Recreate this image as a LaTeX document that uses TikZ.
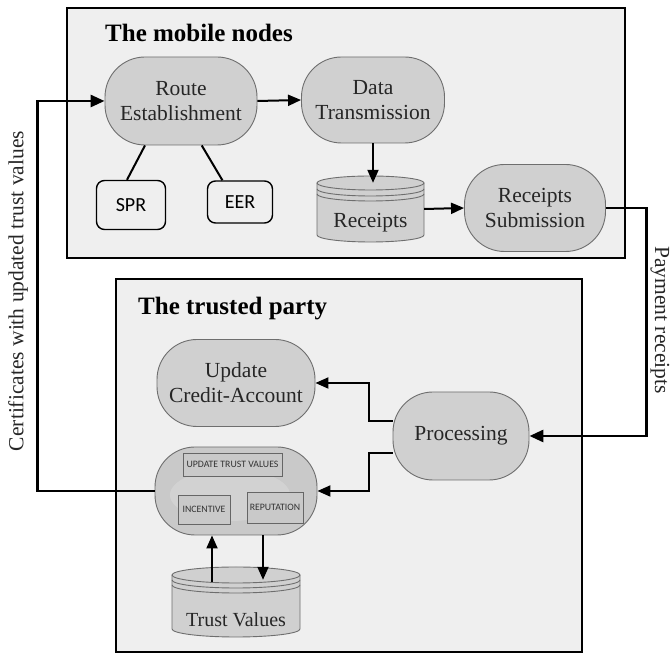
\documentclass[tikz,border=0pt]{standalone}
\usepackage{fontspec}
\setmainfont{Liberation Serif}
\newfontfamily\labelsans{Carlito}
\usetikzlibrary{arrows.meta}

\definecolor{panelbg}{HTML}{EFEFEF}
\definecolor{nodefill}{HTML}{D0D0D0}
\definecolor{nodeedge}{HTML}{6E6E6E}
\definecolor{tvfill}{HTML}{C9C9C9}

\begin{document}
\begin{tikzpicture}[x=1pt,y=1pt,
  panel/.style={draw=black, line width=2.6pt, fill=panelbg},
  stadium/.style={draw=nodeedge, line width=0.9pt, fill=nodefill, rounded corners=40pt,
    align=center, font=\fontsize{21.5}{25}\selectfont, text=black!85, inner sep=0pt},
  tag/.style={draw=black, line width=1.4pt, rounded corners=8pt,
    font=\labelsans\fontsize{20}{22}\selectfont, inner sep=0pt},
  mini/.style={draw=black!60, line width=0.9pt, fill=tvfill, inner sep=0pt,
    font=\labelsans\fontsize{9.8}{11}\selectfont, text=black!80},
  cyl/.style={draw=nodeedge, line width=0.9pt},
  link/.style={line width=2pt, -{Triangle[length=13pt,width=11pt]}},
  plain/.style={line width=2pt},
  bus/.style={line width=2.8pt, -{Triangle[length=14pt,width=12pt]}},
  title/.style={font=\bfseries\fontsize{25}{28}\selectfont, anchor=base west, inner sep=0pt},
  side/.style={font=\fontsize{21.5}{25}\selectfont, inner sep=0pt, text=black!85}
]
\useasboundingbox (0,0) rectangle (672,655);
\fill[white] (0,0) rectangle (672,655);

% ---------- mobile nodes panel ----------
\draw[panel] (67,397) rectangle (625,647);
\node[title] (t1) at (105,613) {The mobile nodes};

\node[stadium, minimum width=152, minimum height=88] (route) at (181,554) {Route\\Establishment};
\node[stadium, minimum width=143, minimum height=86] (data) at (373,555) {Data\\Transmission};
\node[tag, minimum width=69, minimum height=49] (spr) at (131,450) {SPR};
\node[tag, minimum width=65, minimum height=42] (eer) at (240,453) {EER};
\node[stadium, minimum width=141, minimum height=87] (sub) at (535,447) {Receipts\\Submission};

% receipts store
\fill[nodefill] (317,472) -- (317,420) arc[start angle=180,end angle=360,x radius=53.5pt,y radius=7pt]
  -- (424,472) arc[start angle=0,end angle=180,x radius=53.5pt,y radius=7pt] -- cycle;
\draw[cyl] (317,472) -- (317,420) arc[start angle=180,end angle=360,x radius=53.5pt,y radius=7pt] -- (424,472);
\draw[cyl] (370.5,472) ellipse[x radius=53.5pt,y radius=7pt];
\draw[cyl] (317,466) arc[start angle=180,end angle=360,x radius=53.5pt,y radius=7pt];
\draw[cyl] (317,461) arc[start angle=180,end angle=360,x radius=53.5pt,y radius=7pt];
\node[minimum width=107, minimum height=66, inner sep=0pt] (rc) at (370.5,446) {};
\node[side] (rclabel) at (370.5,432) {Receipts};

% ---------- trusted party panel ----------
\draw[panel] (116,3) rectangle (582,376);
\node[title] (t2) at (138,340) {The trusted party};

\node[stadium, minimum width=158, minimum height=87] (upd) at (236,272) {Update\\Credit-Account};
\node[stadium, minimum width=136, minimum height=88] (proc) at (461,219) {Processing};
\node[stadium, fill=tvfill, minimum width=162, minimum height=88] (tr) at (236,164) {};
\fill[white, opacity=0.18] (230,160) ellipse[x radius=60pt, y radius=26pt];
\node[mini, minimum width=99, minimum height=23] (utv) at (232.5,190.5) {UPDATE TRUST VALUES};
\node[mini, minimum width=52, minimum height=29] (inc) at (204,145.5) {INCENTIVE};
\node[mini, minimum width=56, minimum height=31] (rep) at (275,147.5) {REPUTATION};

% trust values store
\fill[nodefill] (172,80) -- (172,26) arc[start angle=180,end angle=360,x radius=64pt,y radius=8pt]
  -- (300,80) arc[start angle=0,end angle=180,x radius=64pt,y radius=8pt] -- cycle;
\draw[cyl] (172,80) -- (172,26) arc[start angle=180,end angle=360,x radius=64pt,y radius=8pt] -- (300,80);
\draw[cyl] (236,80) ellipse[x radius=64pt,y radius=8pt];
\draw[cyl] (172,75) arc[start angle=180,end angle=360,x radius=64pt,y radius=8pt];
\draw[cyl] (172,70) arc[start angle=180,end angle=360,x radius=64pt,y radius=8pt];
\node[minimum width=128, minimum height=70, inner sep=0pt] (tv) at (236,53) {};
\node[side, font=\fontsize{20}{24}\selectfont] (tvlabel) at (236,35) {Trust Values};

% ---------- connectors inside the mobile panel ----------
\draw[link] (route.east) -- (data.west);
\draw[plain] (route.231.5) -- (spr.99);
\draw[plain] (route.295.5) -- (eer.129);
\draw[link] (data.south) -- ([yshift=-7pt]data.south |- rc.north);
\draw[link] (rc.east) -- (sub.west);

% ---------- connectors inside the trusted panel ----------
\draw[link] ([yshift=15pt]proc.west) -- ++(-24,0) |- (upd.east);
\draw[link] ([yshift=-17pt]proc.west) -- ++(-24,0) |- (tr.east);
\draw[link] ([xshift=-24pt,yshift=-15pt]tv.north) -- ([xshift=-24pt]tr.south);
\draw[link] ([xshift=27pt]tr.south) -- ([xshift=27pt,yshift=-13pt]tv.north);

% ---------- links between the two parties ----------
\draw[bus] (sub.east) -- ++(40.5,0) |- (proc.east);
\draw[bus] (tr.west) -- ++(-117,0) |- (route.west);

\node[side, rotate=-90] (pay) at (660,335) {Payment receipts};
\node[side, rotate=90] (cert) at (18,364) {Certificates with updated trust values};
\end{tikzpicture}
\end{document}
